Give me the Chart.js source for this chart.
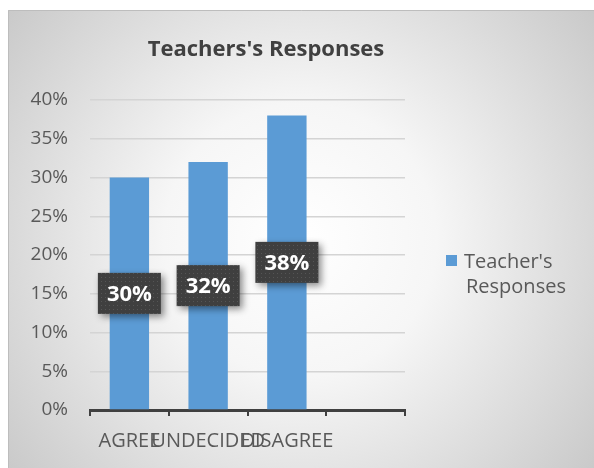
<!DOCTYPE html>
<html>
<head>
<meta charset="utf-8">
<script src="https://cdn.jsdelivr.net/npm/chart.js@4/dist/chart.umd.min.js"></script>
<style>
  html, body { margin: 0; padding: 0; background: #fff; }
  canvas { display: block; }
</style>
</head>
<body>
<canvas id="myChart" width="594" height="468"></canvas>
<script>
const chartTitle = "Teachers's Responses";
const seriesName = ["Teacher's", "Responses"];
const categories = ['AGREE', 'UNDECIDED', 'DISAGREE', ''];
const responses = [30, 32, 38, null];
const yMin = 0;
const yMax = 40;
const yStep = 5;

const FONT = "'Open Sans', 'Noto Sans', sans-serif";
const barColor = '#5b9bd5';

// dotted dark fill used by the value boxes
const makeDots = () => {
  const tile = document.createElement('canvas');
  tile.width = 4;
  tile.height = 4;
  const t = tile.getContext('2d');
  t.fillStyle = '#3f3f3f';
  t.fillRect(0, 0, 4, 4);
  t.fillStyle = '#555555';
  t.fillRect(1, 1, 1, 1);
  return tile;
};

const backgroundPlugin = {
  id: 'frameBg',
  beforeDraw(chart) {
    const { ctx, width, height } = chart;
    ctx.save();
    ctx.fillStyle = '#ffffff';
    ctx.fillRect(0, 0, width, height);
    const g = ctx.createRadialGradient(300, 240, 0, 300, 240, 390);
    g.addColorStop(0, '#ffffff');
    g.addColorStop(0.35, '#f6f6f6');
    g.addColorStop(1, '#c6c6c6');
    ctx.fillStyle = g;
    ctx.fillRect(8, 10, width - 8, height - 10);
    ctx.strokeStyle = '#bdbdbd';
    ctx.lineWidth = 1;
    ctx.beginPath();
    ctx.moveTo(8.5, height);
    ctx.lineTo(8.5, 10.5);
    ctx.lineTo(width, 10.5);
    ctx.stroke();
    ctx.restore();
  }
};

const valueBoxPlugin = {
  id: 'valueBoxes',
  afterDatasetsDraw(chart) {
    const { ctx } = chart;
    const meta = chart.getDatasetMeta(0);
    const pattern = ctx.createPattern(makeDots(), 'repeat');
    meta.data.forEach((bar, i) => {
      const v = responses[i];
      if (v == null) return;
      const cx = bar.x;
      const cy = (bar.y + bar.base) / 2;
      const w = 63, h = 41;
      ctx.save();
      ctx.shadowColor = 'rgba(0,0,0,0.45)';
      ctx.shadowBlur = 7;
      ctx.shadowOffsetX = 3;
      ctx.shadowOffsetY = 3;
      ctx.fillStyle = pattern;
      ctx.fillRect(cx - w / 2, cy - h / 2, w, h);
      ctx.restore();
      ctx.save();
      ctx.fillStyle = '#ffffff';
      ctx.font = `bold 22px ${FONT}`;
      ctx.textAlign = 'center';
      ctx.textBaseline = 'middle';
      ctx.fillText(v + '%', cx, cy + 1);
      ctx.restore();
    });
  }
};

const titleLegendPlugin = {
  id: 'titleLegend',
  afterDraw(chart) {
    const { ctx } = chart;
    ctx.save();
    ctx.fillStyle = '#404040';
    ctx.font = `bold 22px ${FONT}`;
    ctx.textAlign = 'center';
    ctx.textBaseline = 'middle';
    ctx.fillText(chartTitle, 266, 50);

    ctx.fillStyle = barColor;
    ctx.fillRect(446, 255, 11, 11);
    ctx.fillStyle = '#595959';
    ctx.font = `20px ${FONT}`;
    ctx.textAlign = 'left';
    ctx.textBaseline = 'alphabetic';
    ctx.fillText(seriesName[0], 464, 268);
    ctx.fillText(seriesName[1], 466, 293);
    ctx.restore();
  }
};

const config = {
  type: 'bar',
  data: {
    labels: categories,
    datasets: [
      {
        label: seriesName.join(' '),
        data: responses,
        backgroundColor: barColor,
        borderWidth: 0,
        barPercentage: 0.5,
        categoryPercentage: 1,
      },
    ],
  },
  options: {
    responsive: false,
    devicePixelRatio: 1,
    animation: false,
    layout: {
      padding: { top: 100, right: 189, left: 0, bottom: 0 },
    },
    plugins: {
      legend: { display: false },
      title: { display: false },
      tooltip: { enabled: false },
    },
    scales: {
      x: {
        offset: true,
        afterFit: (scale) => { scale.height = 58; },
        grid: {
          offset: true,
          drawOnChartArea: false,
          drawTicks: true,
          tickLength: 6,
          color: '#404040',
          lineWidth: 2,
        },
        border: { display: true, color: '#404040', width: 3 },
        ticks: {
          autoSkip: false,
          maxRotation: 0,
          minRotation: 0,
          padding: 13,
          color: '#595959',
          font: { family: FONT, size: 20 },
        },
      },
      y: {
        min: yMin,
        max: yMax,
        afterFit: (scale) => { scale.width = 90; },
        grid: {
          drawTicks: false,
          color: '#d4d4d4',
          lineWidth: 1.5,
        },
        border: { display: false },
        ticks: {
          stepSize: yStep,
          padding: 22,
          color: '#595959',
          font: { family: FONT, size: 19 },
          callback: (v) => v + '%',
        },
      },
    },
  },
  plugins: [backgroundPlugin, valueBoxPlugin, titleLegendPlugin],
};

const myChart = new Chart(document.getElementById('myChart'), config);
</script>
</body>
</html>
